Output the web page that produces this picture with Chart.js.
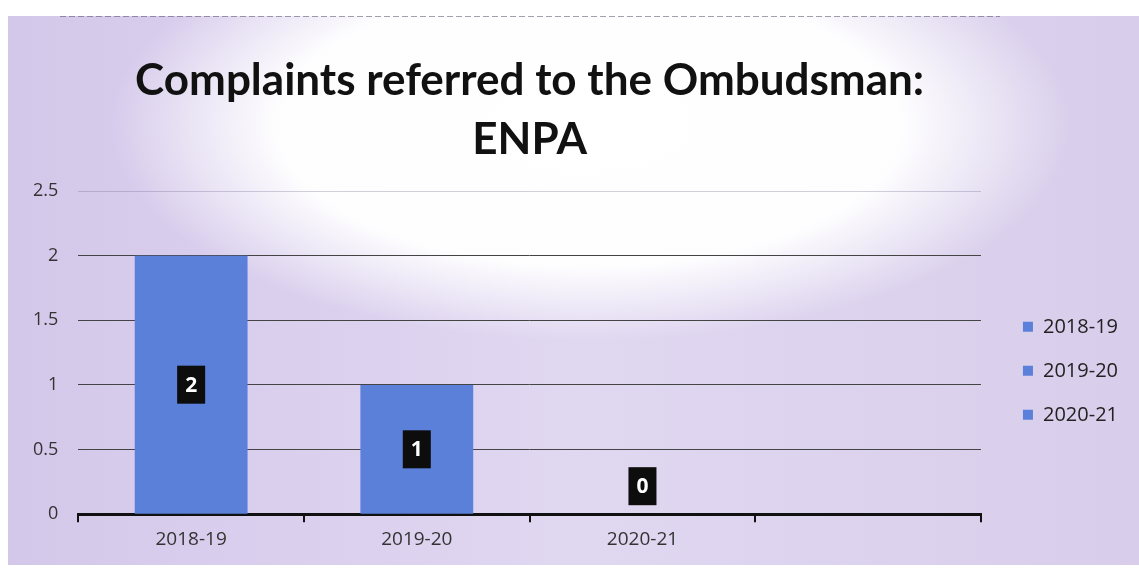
<!DOCTYPE html>
<html>
<head>
<meta charset="utf-8">
<script src="https://cdn.jsdelivr.net/npm/chart.js@4.4.0/dist/chart.umd.min.js"></script>
<style>
  html, body { margin: 0; padding: 0; background: #ffffff; }
  #wrap { width: 1139px; height: 569px; }
</style>
</head>
<body>
<div id="wrap"><canvas id="c" width="1139" height="569"></canvas></div>
<script>
const categories = ['2018-19', '2019-20', '2020-21', ''];
const seriesNames = ['2018-19', '2019-20', '2020-21'];
const values2018 = [2, null, null, null];
const values2019 = [null, 1, null, null];
const values2020 = [null, null, 0, null];
const yTicks = [0, 0.5, 1, 1.5, 2, 2.5];

const barColor = '#5b80d9';

const bgPlugin = {
  id: 'bg',
  beforeDraw(chart) {
    const ctx = chart.ctx;
    const W = chart.width, H = chart.height;
    ctx.save();
    ctx.fillStyle = '#ffffff';
    ctx.fillRect(0, 0, W, H);
    const lg = ctx.createLinearGradient(8, 0, W, 0);
    lg.addColorStop(0, '#d4c8ea');
    lg.addColorStop(0.5, '#e0d7f1');
    lg.addColorStop(1, '#d8ceeb');
    ctx.fillStyle = lg;
    ctx.fillRect(8, 16, W - 8, H - 20);
    ctx.save();
    ctx.beginPath();
    ctx.rect(8, 16, W - 8, H - 20);
    ctx.clip();
    ctx.translate(590, 125);
    ctx.scale(1, 0.45);
    const rg = ctx.createRadialGradient(0, 0, 0, 0, 0, 480);
    rg.addColorStop(0, 'rgba(255,255,255,1)');
    rg.addColorStop(0.65, 'rgba(255,255,255,0.97)');
    rg.addColorStop(1, 'rgba(255,255,255,0)');
    ctx.fillStyle = rg;
    ctx.beginPath();
    ctx.arc(0, 0, 480, 0, Math.PI * 2);
    ctx.fill();
    ctx.restore();
    ctx.strokeStyle = 'rgba(70,70,90,0.5)';
    ctx.setLineDash([6, 3]);
    ctx.lineWidth = 1;
    ctx.beginPath();
    ctx.moveTo(60, 16.5);
    ctx.lineTo(1000, 16.5);
    ctx.stroke();
    ctx.restore();
  }
};

const labelPlugin = {
  id: 'boxLabels',
  afterDatasetsDraw(chart) {
    const ctx = chart.ctx;
    ctx.save();
    ctx.font = 'bold 21px "Open Sans", sans-serif';
    ctx.textAlign = 'center';
    ctx.textBaseline = 'middle';
    chart.data.datasets.forEach((ds, di) => {
      const meta = chart.getDatasetMeta(di);
      meta.data.forEach((el, i) => {
        const v = ds.data[i];
        if (v === null || v === undefined) return;
        const props = el.getProps(['x', 'y', 'base'], true);
        let cy = (props.y + props.base) / 2;
        if (v === 0) cy = props.base - 28;
        const w = 28, h = 38;
        ctx.fillStyle = '#0d0d0d';
        ctx.fillRect(props.x - w / 2, cy - h / 2, w, h);
        ctx.fillStyle = '#ffffff';
        ctx.fillText(String(v), props.x, cy + 1);
      });
    });
    ctx.restore();
  }
};

new Chart(document.getElementById('c'), {
  type: 'bar',
  data: {
    labels: categories,
    datasets: [
      { label: seriesNames[0], data: values2018, backgroundColor: barColor },
      { label: seriesNames[1], data: values2019, backgroundColor: barColor },
      { label: seriesNames[2], data: values2020, backgroundColor: barColor }
    ]
  },
  options: {
    responsive: false,
    animation: false,
    skipNull: true,
    categoryPercentage: 1.0,
    barPercentage: 0.5,
    layout: { padding: { left: 13, right: 11, top: 40, bottom: 12 } },
    plugins: {
      title: {
        display: true,
        text: ['Complaints referred to the Ombudsman:', 'ENPA'],
        fullSize: false,
        color: '#111111',
        font: { family: 'Lato, "Open Sans", sans-serif', size: 44, weight: 'bold', lineHeight: 1.33 },
        padding: { top: 12, bottom: 22 }
      },
      legend: {
        position: 'right',
        fullSize: false,
        title: { display: true, text: '', padding: 11, font: { size: 12 } },
        labels: {
          boxWidth: 10,
          boxHeight: 10,
          padding: 24,
          color: '#222222',
          font: { family: '"Open Sans", sans-serif', size: 20 }
        }
      },
      tooltip: { enabled: false }
    },
    scales: {
      x: {
        grid: {
          display: true,
          offset: true,
          drawOnChartArea: false,
          drawTicks: true,
          tickLength: 8,
          color: '#111111',
          lineWidth: 2
        },
        border: { display: true, color: '#111111', width: 3 },
        ticks: {
          color: '#333333',
          padding: 6,
          font: { family: '"Open Sans", sans-serif', size: 19 }
        }
      },
      y: {
        min: 0,
        max: 2.5,
        afterBuildTicks(axis) { axis.ticks = yTicks.map(v => ({ value: v })); },
        grid: {
          drawTicks: false,
          color: ctx => (ctx.tick && ctx.tick.value === 2.5) ? 'rgba(110,100,140,0.3)' : '#444444',
          lineWidth: 1
        },
        border: { display: false },
        ticks: {
          color: '#333333',
          padding: 20,
          callback: v => String(v),
          font: { family: '"Open Sans", sans-serif', size: 18 }
        }
      },
      yGap: {
        type: 'linear',
        position: 'right',
        display: true,
        grid: { display: false },
        border: { display: false },
        ticks: { display: false },
        afterFit(s) { s.width = 18; }
      }
    }
  },
  plugins: [bgPlugin, labelPlugin]
});
</script>
</body>
</html>
